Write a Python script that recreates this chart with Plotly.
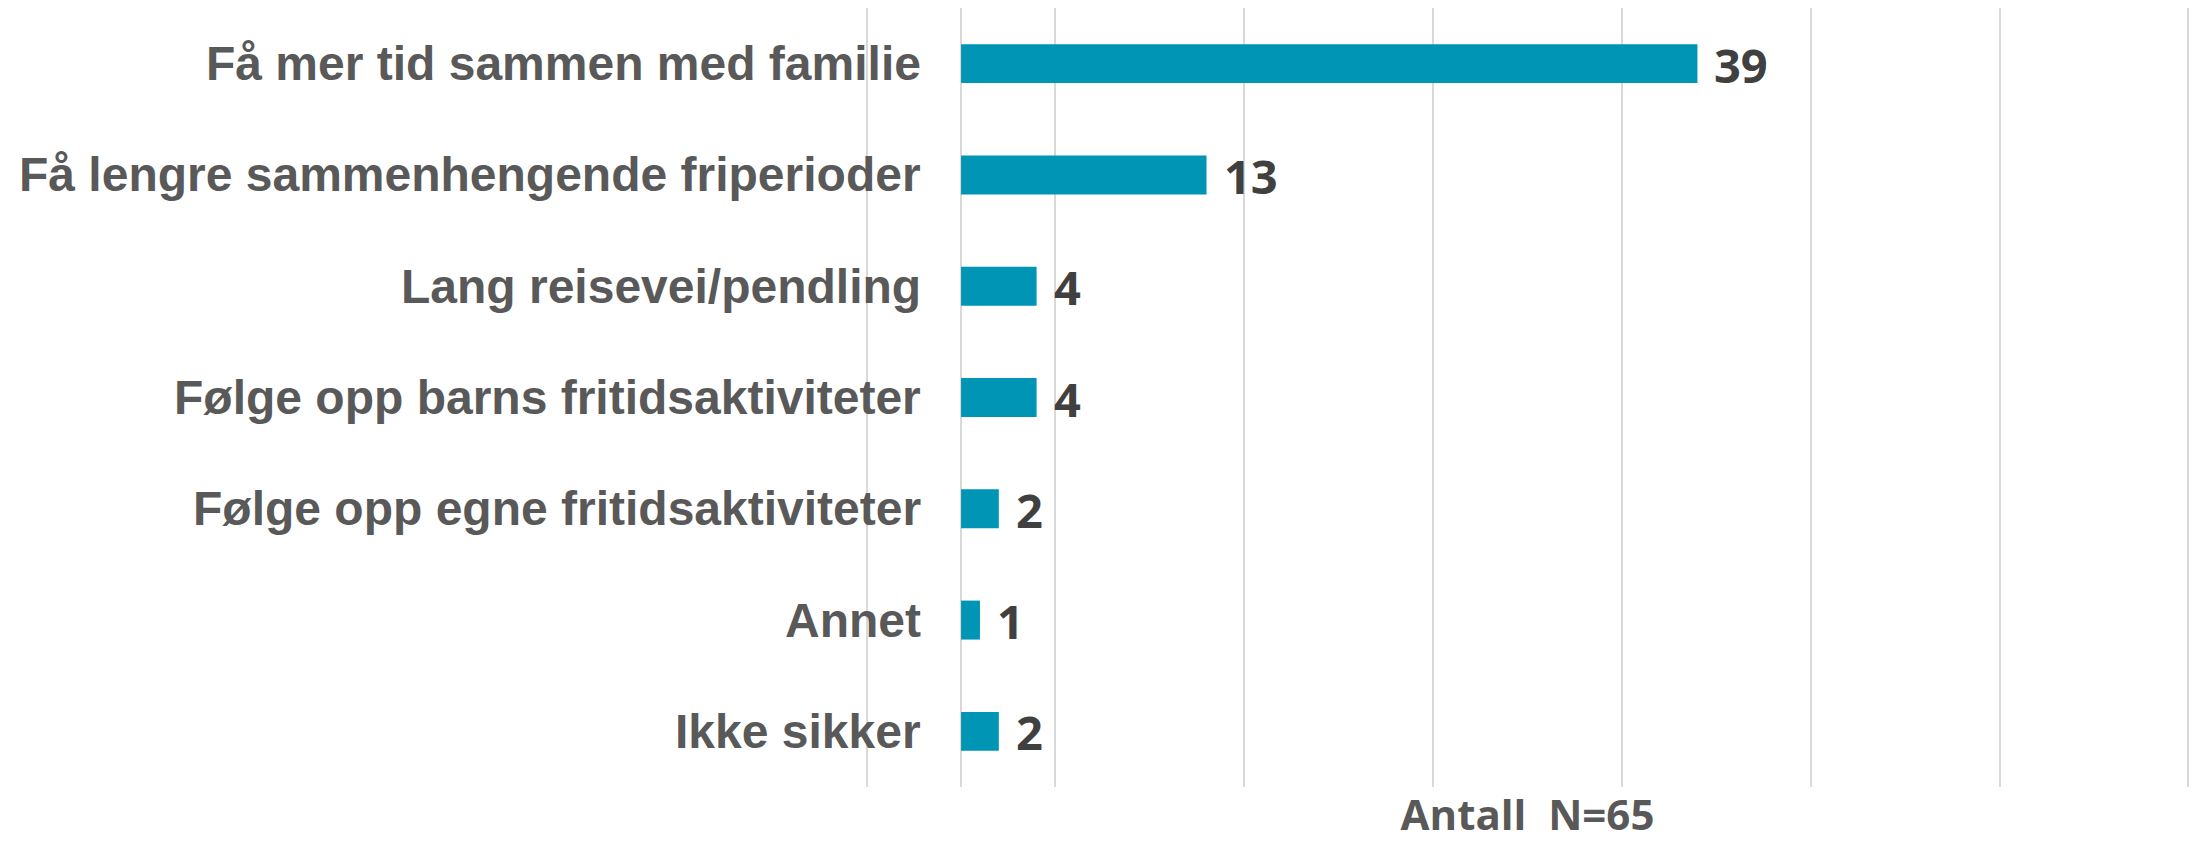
import plotly.graph_objects as go

categories = [
    "Få mer tid sammen med familie",
    "Få lengre sammenhengende friperioder",
    "Lang reisevei/pendling",
    "Følge opp barns fritidsaktiviteter",
    "Følge opp egne fritidsaktiviteter",
    "Annet",
    "Ikke sikker",
]
values = [39, 13, 4, 4, 2, 1, 2]
grid_ticks = [-5, 0, 5, 15, 25, 35, 45, 55, 65]
axis_title = "Antall  N=65"

BAR_COLOR = "#0095B4"
LABEL_COLOR = "#595959"
VALUE_COLOR = "#404040"

fig = go.Figure(
    go.Bar(
        x=values,
        y=categories,
        orientation="h",
        marker=dict(color=BAR_COLOR, line=dict(width=0)),
        hoverinfo="skip",
    )
)

annotations = []
for c, v in zip(categories, values):
    annotations.append(dict(
        x=0, y=c, xref="x", yref="y", text=c, showarrow=False,
        xanchor="right", yanchor="middle", xshift=-38,
        font=dict(family="Liberation Sans, Arial", size=48, color=LABEL_COLOR, weight="bold"),
    ))
    annotations.append(dict(
        x=v, y=c, xref="x", yref="y", text=str(v), showarrow=False,
        xanchor="left", yanchor="middle", xshift=15, yshift=-1,
        font=dict(family="Open Sans", size=47, color=VALUE_COLOR, weight="bold"),
    ))

fig.update_layout(
    width=2196, height=842,
    margin=dict(l=861, r=2, t=8, b=55),
    paper_bgcolor="white", plot_bgcolor="white",
    bargap=0.65,
    showlegend=False,
    xaxis=dict(
        range=[-5.3, 65.3],
        tickvals=grid_ticks,
        showticklabels=False,
        showgrid=True, gridcolor="#D9D9D9", gridwidth=2,
        zeroline=False, showline=False, ticks="",
        title=dict(text=axis_title, standoff=22,
                   font=dict(family="Open Sans", size=42, color=LABEL_COLOR, weight="bold")),
    ),
    yaxis=dict(
        categoryorder="array", categoryarray=categories, autorange="reversed",
        showticklabels=False, showgrid=False, zeroline=False, ticks="",
    ),
    annotations=annotations,
)

fig.write_html(
    "out.html",
    config={"displayModeBar": False},
    post_script="document.body.style.margin='0';document.body.style.overflow='hidden';",
)
